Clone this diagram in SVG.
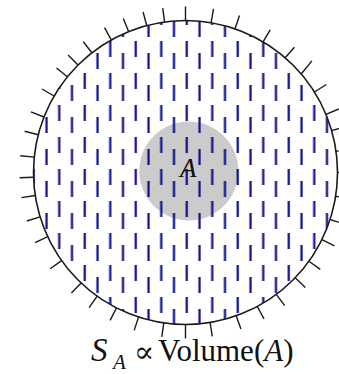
<svg xmlns="http://www.w3.org/2000/svg" width="339" height="374" viewBox="0 0 339 374">
<style>
.rim{fill:none;stroke:#1a1a1a;stroke-width:1.6}
.ticks{fill:none;stroke:#1a1a1a;stroke-width:1.4}
.lbl{font-family:"Liberation Serif","DejaVu Serif",serif;fill:#111}
.it{font-style:italic}
</style>
<defs>
<pattern id="dash" patternUnits="userSpaceOnUse" x="167.5" y="9" width="25.5" height="32">
<path d="M6.5 12v16M19.25 0v16" stroke="#0c0c88" stroke-width="2.2" fill="none"/>
</pattern>
</defs>
<rect width="339" height="374" fill="#fff"/>
<g id="region-A">
<circle cx="188.8" cy="171" r="49.5" fill="#cbcbcb"/>
</g>
<g id="field">
<circle cx="185.5" cy="172.5" r="152" fill="url(#dash)"/>
</g>
<g id="boundary">
<circle class="rim" cx="185.5" cy="172.5" r="152"/>
<path class="ticks" d="M325.9 114.3L338.9 109M314.4 92L326.3 84.5M301.2 74L311.9 60.9M285.2 57.8L294.4 47.2M263.1 41.8L270.2 29.8M235 28.8L239.5 15.5M211.1 22.7L213.5 8.9M185.5 20.5L185.5 6.5M164.6 21.9L162.7 8.1M146.7 25.5L143.1 12M128.6 31.6L123.3 18.6M111.3 39.8L104.5 27.6M91.9 52.7L83.3 41.7M78 65L68.1 55.1M67.4 76.8L56.5 68M54.1 96L42 89M44 117L30.9 111.9M38.3 134.7L24.7 131.2M34.3 157.1L20.3 155.7M33.6 177.3L19.6 177.7M35.3 195.5L21.4 197.6M40.1 216.9L26.8 221M47.7 236.7L35.1 242.7M61.6 260.6L50.2 268.7M81.1 282.9L71.4 293.1M97.2 296.2L89.1 307.6M116.5 307.9L110.1 320.4M138.5 317.1L134.2 330.4M163.8 322.9L161.8 336.8M185.5 324.5L185.5 338.5M210.1 322.5L212.3 336.3M236.2 315.8L240.9 329M257.3 306.5L264 318.8M276.3 294.4L284.7 305.6M295.2 277.7L305.3 287.4M308.9 261.2L320.3 269.4M321.9 239.6L334.5 245.8M330.1 219.5L343.4 223.8M335.6 196.3L349.5 198.5M337.5 172.5L351.5 172.5M336 151.3L349.9 149.4M331.6 130.6L345.1 126.8"/>
</g>
<g id="label-A">
<text class="lbl it" x="180" y="177" font-size="27">A</text>
</g>
<g id="caption">
<text class="lbl" font-size="31" y="361"><tspan class="it" x="91" font-size="33">S</tspan><tspan class="it" x="113" y="369" font-size="21">A</tspan><tspan x="134" y="362" font-size="30" style="font-family:'DejaVu Serif',serif">∝</tspan><tspan x="158" y="361">Volume(</tspan><tspan class="it">A</tspan><tspan>)</tspan></text>
</g>
</svg>
